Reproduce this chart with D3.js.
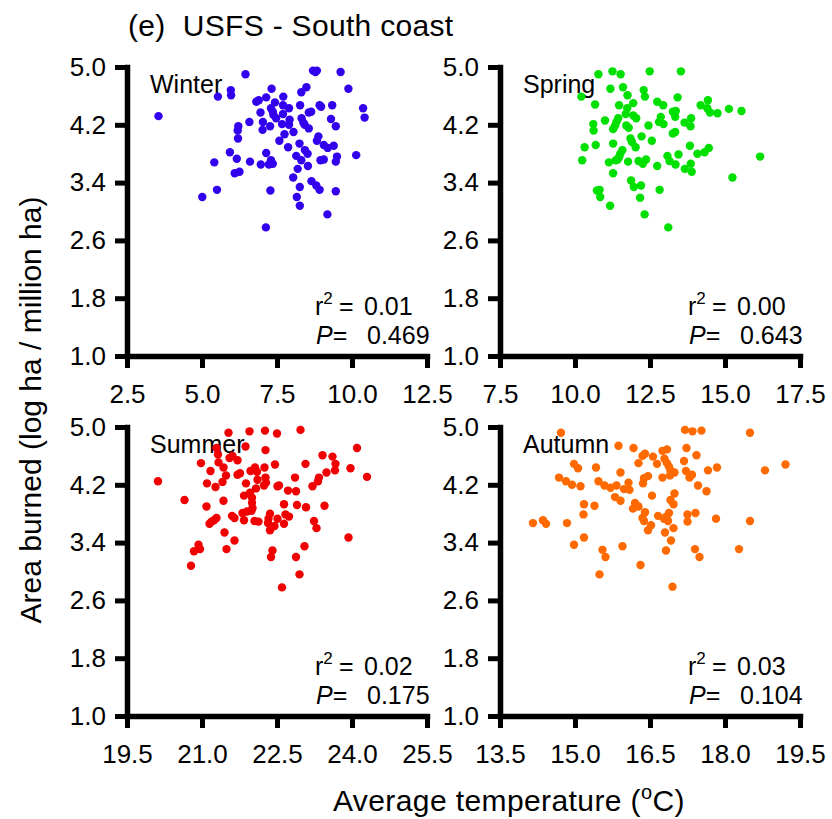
<!DOCTYPE html>
<html>
<head>
<meta charset="utf-8">
<script src="https://cdn.jsdelivr.net/npm/d3@7"></script>
<style>
  body { margin: 0; background: #fff; }
  svg text { font-family: "Liberation Sans", Arial, sans-serif; fill: #000; }
</style>
</head>
<body>
<div id="chart"></div>
<script>

// values
var seasons = ["Winter", "Spring", "Summer", "Autumn"];
var r2Text = ["0.01", "0.00", "0.02", "0.03"];
var pText = ["0.469", "0.643", "0.175", "0.104"];
var xDomains = [[2.5, 12.5], [7.5, 17.5], [19.5, 25.5], [13.5, 19.5]];
var xSteps = [2.5, 2.5, 1.5, 1.5];
var yTicks = [1.0, 1.8, 2.6, 3.4, 4.2, 5.0];
var colors = ["#3300ee", "#00e000", "#f00000", "#ff6a00"];

var winterT = [3.55,6.45,8.70,8.78,8.83,9.62,9.88,8.48,8.31,7.32,5.96,5.97,5.53,7.14,6.89,6.81,7.71,7.43,7.70,7.90,
  7.30,7.36,7.38,7.47,7.70,6.95,8.27,8.92,8.97,8.64,8.56,9.34,10.37,10.42,9.30,9.46,8.32,8.38,8.42,8.56,
  7.92,7.90,7.67,7.03,7.27,7.02,6.58,6.21,6.19,6.20,7.75,8.05,7.58,7.87,8.25,8.88,8.83,9.06,9.19,9.39,
  10.14,9.50,9.46,8.43,8.52,8.14,8.31,8.95,9.06,8.53,8.19,5.93,6.16,5.41,6.60,7.14,6.96,7.23,7.36,7.30,
  6.25,6.09,8.04,8.65,8.81,8.92,8.26,9.46,7.28,5.50,5.01,8.16,8.26,9.18,7.13];
var winterA = [4.32,4.90,4.95,4.93,4.95,4.93,4.70,4.72,4.65,4.70,4.68,4.61,4.59,4.58,4.54,4.52,4.59,4.51,4.47,4.43,
  4.43,4.38,4.34,4.29,4.35,4.37,4.47,4.47,4.45,4.38,4.37,4.47,4.43,4.30,4.28,4.18,4.29,4.23,4.20,4.15,
  4.27,4.20,4.21,4.24,4.18,4.13,4.24,4.18,4.12,4.01,4.07,4.10,3.98,3.89,3.94,4.04,3.98,3.92,3.88,3.91,
  3.78,3.76,3.69,3.85,3.80,3.77,3.71,3.71,3.72,3.63,3.59,3.82,3.73,3.68,3.69,3.81,3.65,3.65,3.66,3.71,
  3.55,3.53,3.47,3.42,3.36,3.30,3.34,3.28,3.29,3.30,3.20,3.20,3.08,2.96,2.78];

var springT = [10.78,11.25,11.52,12.49,13.53,10.21,10.67,11.18,11.60,11.75,12.29,12.33,11.94,11.47,11.74,11.69,11.94,12.04,12.74,12.94,
  13.42,13.26,13.36,13.34,14.19,14.43,14.41,14.50,14.75,15.13,15.55,13.87,13.65,13.85,12.86,12.80,12.95,12.45,11.44,11.38,
  11.34,11.27,11.71,11.79,11.00,10.61,10.62,13.26,13.34,12.22,11.85,11.90,12.02,12.56,11.27,10.69,10.32,11.58,11.51,11.47,
  11.36,11.13,11.42,11.77,10.24,12.12,12.26,12.37,12.74,13.08,13.15,13.35,13.45,13.83,13.66,13.86,13.89,14.08,14.32,14.46,
  16.17,15.25,11.27,11.87,11.96,12.20,12.17,12.82,10.73,10.82,10.84,11.17,12.32,13.11];
var springA = [4.90,4.94,4.90,4.94,4.94,4.59,4.48,4.70,4.72,4.61,4.68,4.59,4.50,4.47,4.43,4.35,4.33,4.29,4.52,4.47,
  4.58,4.38,4.39,4.31,4.47,4.54,4.43,4.37,4.36,4.42,4.39,4.29,4.23,4.18,4.31,4.24,4.21,4.19,4.29,4.24,
  4.19,4.14,4.19,4.16,4.26,4.21,4.12,4.08,4.10,4.04,4.01,3.96,3.89,3.98,3.94,3.92,3.89,3.85,3.80,3.75,
  3.71,3.68,3.72,3.69,3.71,3.70,3.66,3.72,3.63,3.77,3.70,3.65,3.79,3.91,3.59,3.66,3.55,3.80,3.82,3.88,
  3.76,3.47,3.53,3.43,3.34,3.36,3.19,3.30,3.29,3.30,3.20,3.08,2.96,2.78];

var summerT = [20.12,21.53,21.95,22.26,22.50,22.97,21.87,22.27,21.29,21.32,21.55,21.61,21.71,21.33,20.98,21.43,21.17,21.48,21.41,21.10,
  21.27,21.71,21.76,21.97,22.06,22.10,22.25,22.46,22.27,22.11,22.28,22.24,21.88,22.08,22.51,22.54,22.72,22.88,22.86,23.07,
  23.41,23.61,23.67,23.66,23.49,23.34,23.32,23.21,23.97,24.10,24.30,21.96,21.84,22.00,22.00,22.01,21.99,21.90,21.81,21.43,
  21.09,20.65,21.29,21.24,21.15,21.19,21.60,21.65,21.84,22.05,22.13,22.36,22.33,22.32,22.36,22.45,22.51,22.64,22.67,22.74,
  22.64,22.90,23.08,23.45,23.24,23.29,23.93,23.05,21.45,21.65,21.49,20.93,20.96,20.84,20.78,22.41,22.38,22.88,22.95,22.60];
var summerA = [4.25,4.92,4.94,4.95,4.91,4.96,4.73,4.68,4.71,4.62,4.57,4.60,4.54,4.51,4.50,4.44,4.39,4.33,4.24,4.22,
  4.17,4.34,4.36,4.39,4.44,4.38,4.44,4.48,4.30,4.27,4.23,4.19,4.22,4.15,4.18,4.19,4.12,4.11,4.30,4.49,
  4.61,4.59,4.49,4.40,4.37,4.30,4.25,4.18,4.43,4.71,4.31,4.09,4.05,4.02,3.95,3.88,3.84,3.83,3.81,3.98,
  3.90,3.99,3.74,3.71,3.66,3.69,3.77,3.74,3.71,3.70,3.69,3.80,3.73,3.67,3.57,3.63,3.73,3.66,3.79,3.76,
  3.93,3.92,3.89,3.91,3.70,3.60,3.47,3.35,3.54,3.43,3.31,3.37,3.31,3.28,3.08,3.29,3.20,3.20,2.96,2.78];

var autumnT = [14.72,15.87,16.17,17.20,17.35,17.53,18.50,16.75,16.84,17.23,17.43,17.18,16.35,16.40,16.56,16.64,16.79,16.84,16.88,16.91,
  16.99,16.90,16.75,16.27,17.22,17.34,17.29,17.66,17.84,18.80,19.21,17.46,17.63,14.98,15.06,15.42,15.91,14.68,14.82,14.94,
  15.11,15.47,15.59,15.71,15.83,16.07,15.98,16.09,16.38,16.46,16.36,15.80,15.91,16.54,16.99,16.91,16.97,16.20,16.27,16.16,
  16.40,16.35,16.38,16.52,16.46,16.66,16.78,16.83,16.88,16.86,16.97,16.80,16.92,17.25,17.25,17.41,17.82,18.50,15.18,15.39,
  15.17,14.16,14.36,14.42,14.84,15.18,14.98,15.95,15.55,15.61,16.82,17.40,17.49,18.28,16.31,15.49,16.95];
var autumnA = [4.92,4.74,4.71,4.96,4.94,4.95,4.92,4.67,4.69,4.71,4.61,4.53,4.60,4.63,4.59,4.49,4.56,4.50,4.45,4.40,
  4.37,4.33,4.30,4.50,4.39,4.34,4.30,4.40,4.44,4.40,4.48,4.19,4.11,4.49,4.43,4.44,4.37,4.30,4.25,4.20,
  4.18,4.25,4.19,4.16,4.19,4.23,4.14,4.13,4.29,4.32,4.22,4.03,3.98,4.05,4.08,3.99,3.93,3.95,3.90,3.87,
  3.82,3.74,3.70,3.64,3.57,3.77,3.73,3.76,3.81,3.70,3.60,3.54,3.43,3.79,3.69,3.81,3.73,3.70,3.93,3.91,
  3.79,3.67,3.71,3.66,3.67,3.47,3.37,3.35,3.30,3.20,3.29,3.31,3.20,3.31,3.09,2.96,2.79];

var temps = [winterT, springT, summerT, autumnT];
var areas = [winterA, springA, summerA, autumnA];

var width = 832, height = 819;
var panelW = 300, panelH = 289;
var origins = [[127, 67], [500, 67], [127, 427], [500, 427]];

var svg = d3.select("#chart").append("svg")
    .attr("width", width)
    .attr("height", height);

svg.append("text")
    .attr("x", 128)
    .attr("y", 36)
    .attr("font-size", 30)
    .attr("letter-spacing", 0.3)
    .style("white-space", "pre")
    .text("(e)  USFS - South coast");

seasons.forEach(function(name, i) {
    var ox = origins[i][0], oy = origins[i][1];
    var g = svg.append("g").attr("transform", "translate(" + ox + "," + oy + ")");

    var x = d3.scaleLinear().domain(xDomains[i]).range([0, panelW]);
    var y = d3.scaleLinear().domain([1, 5]).range([panelH, 0]);

    var xt = d3.range(xDomains[i][0], xDomains[i][1] + 0.001, xSteps[i]);

    var yAxis = g.append("g")
        .call(d3.axisLeft(y).tickValues(yTicks).tickFormat(d3.format(".1f"))
            .tickSize(12).tickSizeOuter(0).tickPadding(9));
    var xAxis = g.append("g")
        .attr("transform", "translate(0," + panelH + ")")
        .call(d3.axisBottom(x).tickValues(xt).tickFormat(d3.format(".1f"))
            .tickSize(12).tickSizeOuter(0).tickPadding(17));

    [yAxis, xAxis].forEach(function(a) {
        a.select(".domain").attr("stroke-width", 5.5).attr("stroke-linecap", "square");
        a.selectAll(".tick line").attr("stroke-width", 5);
        a.selectAll(".tick text").attr("font-size", 26).attr("font-family", null);
    });

    // season label, under the dots
    g.append("text")
        .attr("x", 23)
        .attr("y", 26)
        .attr("font-size", 25)
        .text(name);

    g.append("g").selectAll("circle")
        .data(temps[i].map(function(t, k) { return [t, areas[i][k]]; }))
        .enter().append("circle")
        .attr("cx", function(d) { return x(d[0]); })
        .attr("cy", function(d) { return y(d[1]); })
        .attr("r", 4.2)
        .attr("fill", colors[i]);

    var r = g.append("text")
        .attr("x", 188)
        .attr("y", panelH - 41)
        .attr("font-size", 25);
    r.append("tspan").text("r");
    r.append("tspan").attr("font-size", 17).attr("dy", -11).text("2");
    r.append("tspan").attr("dy", 11).attr("x", 212).text("=");
    r.append("tspan").attr("x", 237).text(r2Text[i]);

    var p = g.append("text")
        .attr("x", 189)
        .attr("y", panelH - 12)
        .attr("font-size", 25);
    p.append("tspan").attr("font-style", "italic").text("P");
    p.append("tspan").text("=");
    p.append("tspan").attr("x", 240).text(pText[i]);
});

svg.append("text")
    .attr("transform", "translate(41,410) rotate(-90)")
    .attr("text-anchor", "middle")
    .attr("font-size", 30)
    .text("Area burned (log ha / million ha)");

var xl = svg.append("text")
    .attr("x", 509)
    .attr("y", 811)
    .attr("text-anchor", "middle")
    .attr("font-size", 30)
    .attr("letter-spacing", 0.4);
xl.append("tspan").text("Average temperature (");
xl.append("tspan").attr("font-size", 20).attr("dy", -12).text("o");
xl.append("tspan").attr("dy", 12).text("C)");

</script>
</body>
</html>
